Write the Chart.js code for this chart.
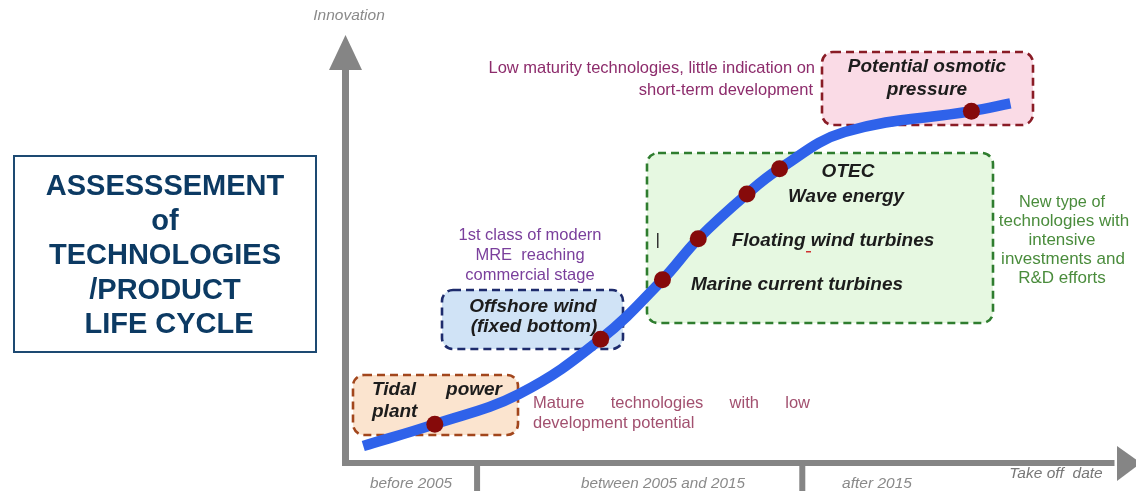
<!DOCTYPE html>
<html>
<head>
<meta charset="utf-8">
<script src="https://cdn.jsdelivr.net/npm/chart.js@4.4.1/dist/chart.umd.min.js"></script>
<style>
  html, body { margin: 0; padding: 0; background: #fff; }
  #wrap { position: relative; width: 1136px; height: 491px; overflow: hidden; }
  #lifeCycle { position: absolute; left: 0; top: 0; }
  .title-box {
    position: absolute; left: 13px; top: 155px; width: 300px; height: 183px;
    padding-top: 11px; border: 2px solid #1d4a72; box-sizing: content-box;
    font-family: 'Liberation Sans', Arial, sans-serif; font-weight: bold;
    font-size: 29px; line-height: 34.5px; color: #0c3a63; text-align: center;
  }
  .title-box div { white-space: pre; }
</style>
</head>
<body>
<div id="wrap">
  <canvas id="lifeCycle" width="1136" height="491"></canvas>
  <div class="title-box">
    <div>ASSESSSEMENT</div>
    <div>of</div>
    <div>TECHNOLOGIES</div>
    <div>/PRODUCT</div>
    <div> LIFE CYCLE</div>
  </div>
</div>
<script>
// S-curve: take-off date (years) vs innovation level
const curveYears = [2001.5, 2003.7, 2006.3, 2008.8, 2010.7, 2011.8, 2013.3, 2014.3, 2016.3, 2020.2, 2021.4];
const curveLevels = [4.0, 9.1, 16.2, 29.0, 42.9, 52.5, 63.0, 68.9, 77.5, 82.4, 84.2];

// technologies placed on the curve
const techNames = ['Tidal power plant', 'Offshore wind (fixed bottom)', 'Marine current turbines', 'Floating wind turbines', 'Wave energy', 'OTEC', 'Potential osmotic pressure'];
const techYears = [2003.7, 2008.8, 2010.7, 2011.8, 2013.3, 2014.3, 2020.2];
const techLevels = [9.1, 29.0, 42.9, 52.5, 63.0, 68.9, 82.4];

// x axis periods
const periodBounds = [2005, 2015];
const periodLabels = ['before 2005', 'between 2005 and 2015', 'after 2015'];

const FONT = "'Liberation Sans', Arial, sans-serif";
const AXIS_GREY = '#858585';

function txt(ctx, s, x, y, font, color, align, maxW) {
    ctx.font = font;
    ctx.fillStyle = color;
    ctx.textAlign = align || 'left';
    ctx.textBaseline = 'middle';
    if (maxW) ctx.fillText(s, x, y, maxW); else ctx.fillText(s, x, y);
}

function justify(ctx, words, x0, x1, y, font, color) {
    ctx.font = font;
    const widths = words.map((w) => ctx.measureText(w).width);
    const total = widths.reduce((a, b) => a + b, 0);
    const gap = (x1 - x0 - total) / (words.length - 1);
    let x = x0;
    words.forEach((w, i) => {
        txt(ctx, w, x, y, font, color, 'left');
        x += widths[i] + gap;
    });
}

function dashedBox(ctx, x0, y0, x1, y1, fill, stroke) {
    ctx.save();
    ctx.beginPath();
    ctx.roundRect(x0, y0, x1 - x0, y1 - y0, 11);
    ctx.fillStyle = fill;
    ctx.fill();
    ctx.setLineDash([8, 5]);
    ctx.lineWidth = 2.6;
    ctx.strokeStyle = stroke;
    ctx.stroke();
    ctx.restore();
}

function squiggle(ctx, x0, x1, y, color) {
    ctx.save();
    ctx.beginPath();
    ctx.strokeStyle = color;
    ctx.lineWidth = 1;
    let up = true;
    ctx.moveTo(x0, y);
    for (let x = x0 + 2; x <= x1; x += 2) {
        ctx.lineTo(x, up ? y - 1.5 : y);
        up = !up;
    }
    ctx.stroke();
    ctx.restore();
}

const decor = {
    id: 'decor',
    beforeDatasetsDraw(chart) {
        const { ctx, scales: { x, y } } = chart;
        ctx.save();

        // axes with arrows
        const ax = x.left - 1.5;
        const ay = y.bottom;
        ctx.fillStyle = AXIS_GREY;
        ctx.fillRect(ax - 3.5, 66, 7, ay - 66 + 3);
        ctx.beginPath();
        ctx.moveTo(ax, 35); ctx.lineTo(ax - 16.5, 70); ctx.lineTo(ax + 16.5, 70); ctx.closePath();
        ctx.fill();
        ctx.fillRect(ax - 3.5, ay - 3, 1118 - ax, 6);
        ctx.beginPath();
        ctx.moveTo(1117, ay - 17); ctx.lineTo(1141, ay); ctx.lineTo(1117, ay + 18); ctx.closePath();
        ctx.fill();
        periodBounds.forEach((b) => {
            const px = x.getPixelForValue(b);
            ctx.fillRect(px - 3, ay, 6, 30);
        });

        // axis labels
        const axFont = `italic 15.5px ${FONT}`;
        txt(ctx, 'Innovation', 349, 16, axFont, '#8a8a8a', 'center', 76);
        txt(ctx, periodLabels[0], 411, 484, axFont, '#8a8a8a', 'center', 82);
        txt(ctx, periodLabels[1], 663, 484, axFont, '#8a8a8a', 'center', 164);
        txt(ctx, periodLabels[2], 877, 484, axFont, '#8a8a8a', 'center', 70);
        txt(ctx, 'Take off  date', 1056, 474, `italic 15.5px ${FONT}`, '#777', 'center', 94);
        squiggle(ctx, 370, 402, 493, '#5aa84a');
        squiggle(ctx, 582, 641, 493, '#5aa84a');
        squiggle(ctx, 842, 868, 493, '#5aa84a');

        // dashed boxes
        dashedBox(ctx, 822, 52, 1033, 125, '#fadbe6', '#8a1c26');
        dashedBox(ctx, 647, 153, 993, 323, '#e6f8e1', '#2f7d2f');
        dashedBox(ctx, 442, 290, 623, 349, '#d0e3f6', '#1d2b6c');
        dashedBox(ctx, 353, 375, 518, 435, '#fbe4cf', '#a2461c');

        // labels inside boxes
        const lbl = `italic bold 19px ${FONT}`;
        const dark = '#1c1c1c';
        txt(ctx, 'Potential osmotic', 927, 67, lbl, dark, 'center', 162);
        txt(ctx, 'pressure', 927, 90, lbl, dark, 'center');
        txt(ctx, 'OTEC', 848, 172, lbl, dark, 'center');
        txt(ctx, 'Wave energy', 846, 197, lbl, dark, 'center', 116);
        txt(ctx, 'Floating wind turbines', 833, 241, lbl, dark, 'center', 206);
        txt(ctx, 'Marine current turbines', 797, 285, lbl, dark, 'center', 214);
        txt(ctx, 'Offshore wind', 533, 307, lbl, dark, 'center', 128);
        txt(ctx, '(fixed bottom)', 534, 327, lbl, dark, 'center', 133);
        justify(ctx, ['Tidal', 'power'], 372, 502, 390, lbl, dark);
        txt(ctx, 'plant', 372, 412, lbl, dark, 'left');
        ctx.fillStyle = '#d03030';
        ctx.fillRect(806, 251, 5, 1.5);
        ctx.fillStyle = '#333';
        ctx.fillRect(657, 233, 1.5, 15);

        // annotations
        const ann = `16.5px ${FONT}`;
        txt(ctx, 'Low maturity technologies, little indication on', 815, 68, ann, '#8d2c6c', 'right', 327);
        txt(ctx, 'short-term development', 813, 90, ann, '#8d2c6c', 'right', 178);
        txt(ctx, '1st class of modern', 530, 235, ann, '#7a3f9c', 'center', 143);
        txt(ctx, 'MRE  reaching', 530, 255, ann, '#7a3f9c', 'center', 112);
        txt(ctx, 'commercial stage', 530, 275, ann, '#7a3f9c', 'center', 130);
        justify(ctx, ['Mature', 'technologies', 'with', 'low'], 533, 810, 403, ann, '#a2506f');
        txt(ctx, 'development potential', 533, 423, ann, '#a2506f', 'left', 162);
        const green = '#4a8c3c';
        const gFont = `17px ${FONT}`;
        txt(ctx, 'New type of', 1062, 202, gFont, green, 'center', 86);
        txt(ctx, 'technologies with', 1064, 221, gFont, green, 'center', 142);
        txt(ctx, 'intensive', 1062, 240, gFont, green, 'center');
        txt(ctx, 'investments and', 1063, 259, gFont, green, 'center', 130);
        txt(ctx, 'R&D efforts', 1062, 278, gFont, green, 'center');

        ctx.restore();
    },
};

function initLifeCycleChart() {
    const canvas = document.getElementById('lifeCycle');
    // eslint-disable-next-line no-new
    new Chart(canvas, {
        type: 'line',
        data: {
            datasets: [
                {
                    label: 'Technologies',
                    type: 'scatter',
                    data: techYears.map((v, i) => ({ x: v, y: techLevels[i], name: techNames[i] })),
                    pointRadius: 8.5,
                    pointBackgroundColor: '#860a0a',
                    pointBorderWidth: 0,
                    order: 0,
                },
                {
                    label: 'Life cycle',
                    data: curveYears.map((v, i) => ({ x: v, y: curveLevels[i] })),
                    borderColor: '#2f62ea',
                    borderWidth: 10.5,
                    borderCapStyle: 'butt',
                    tension: 0.4,
                    pointRadius: 0,
                    fill: false,
                    order: 1,
                },
            ],
        },
        options: {
            responsive: false,
            animation: false,
            clip: false,
            layout: { padding: { left: 347, right: 0, top: 36, bottom: 28 } },
            plugins: { legend: { display: false }, tooltip: { enabled: false } },
            scales: {
                x: { type: 'linear', min: 2001, max: 2025, display: false },
                y: { type: 'linear', min: 0, max: 100, display: false },
            },
        },
        plugins: [decor],
    });
}

initLifeCycleChart();
</script>
</body>
</html>
